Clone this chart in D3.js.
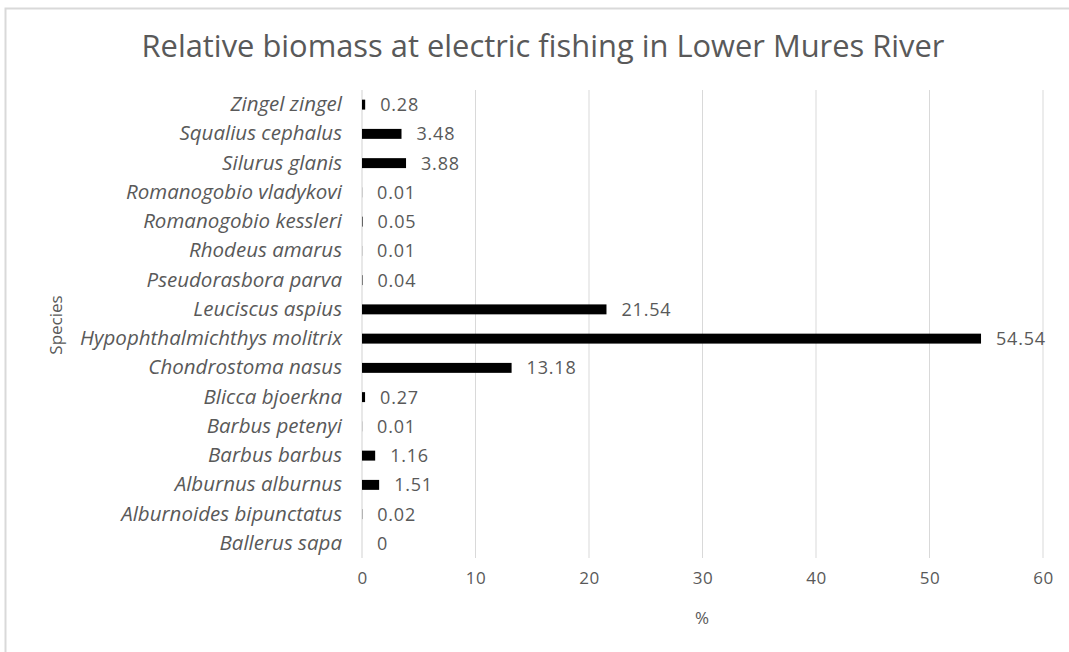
<!DOCTYPE html>
<html><head><meta charset="utf-8">
<script src="https://cdn.jsdelivr.net/npm/d3@7"></script>
<style>body{margin:0;background:#fff;} svg{display:block;}</style>
</head><body>
<script>
const title = "Relative biomass at electric fishing in Lower Mures River";
const species = ["Zingel zingel","Squalius cephalus","Silurus glanis","Romanogobio vladykovi","Romanogobio kessleri","Rhodeus amarus","Pseudorasbora parva","Leuciscus aspius","Hypophthalmichthys molitrix","Chondrostoma nasus","Blicca bjoerkna","Barbus petenyi","Barbus barbus","Alburnus alburnus","Alburnoides bipunctatus","Ballerus sapa"];
const biomass = [0.28,3.48,3.88,0.01,0.05,0.01,0.04,21.54,54.54,13.18,0.27,0.01,1.16,1.51,0.02,0];
const xTicks = [0,10,20,30,40,50,60];
const xLabel = "%";
const yLabel = "Species";

const W = 1069, H = 652;
const m = {left:362, right:W-1043, top:90, bottom:H-558};
const svg = d3.select("body").append("svg").attr("width",W).attr("height",H);
svg.append("rect").attr("x",5.5).attr("y",8.5).attr("width",W+10).attr("height",H+10)
  .attr("fill","#fff").attr("stroke","#d9d9d9").attr("stroke-width",2);

const font = "'Open Sans', sans-serif";
const grey = "#595959";
const x = d3.scaleLinear().domain([0,60]).range([m.left, W-m.right]);
const y = d3.scaleBand().domain(species).range([m.top, H-m.bottom]).paddingInner(0.66).paddingOuter(0.33);

// gridlines
svg.append("g").selectAll("line").data(xTicks.slice(1)).join("line")
  .attr("x1",d=>x(d)).attr("x2",d=>x(d)).attr("y1",m.top).attr("y2",H-m.bottom)
  .attr("stroke","#d9d9d9").attr("stroke-width",1);
// zero axis line
svg.append("line").attr("x1",x(0)).attr("x2",x(0)).attr("y1",m.top).attr("y2",H-m.bottom)
  .attr("stroke","#d9d9d9").attr("stroke-width",1.2);

// x axis
const xa = svg.append("g").attr("transform",`translate(0,${H-m.bottom})`)
  .call(d3.axisBottom(x).tickValues(xTicks).tickSize(0).tickPadding(14));
xa.select(".domain").remove();
xa.selectAll("text").attr("fill",grey).style("font-family",font).style("font-size","17px").style("letter-spacing","0.5px");

// y axis
const ya = svg.append("g").attr("transform",`translate(${m.left-20},0)`)
  .call(d3.axisLeft(y).tickSize(0).tickPadding(0));
ya.select(".domain").remove();
ya.selectAll("text").attr("fill",grey).style("font-family",font).style("font-style","italic").style("font-size","16px");
// fit longest label to ~262px
{
  let mx = 0; ya.selectAll("text").each(function(){mx=Math.max(mx,this.getComputedTextLength());});
  const fs = 16*262/mx;
  ya.selectAll("text").style("font-size",fs+"px");
}

// bars
svg.append("g").selectAll("rect").data(species).join("rect")
  .attr("x",x(0)).attr("y",(d,i)=>y(d)).attr("height",y.bandwidth())
  .attr("width",(d,i)=>x(biomass[i])-x(0)).attr("fill","#000");

// value labels
svg.append("g").selectAll("text").data(species).join("text")
  .attr("x",(d,i)=>x(biomass[i])+15).attr("y",d=>y(d)+y.bandwidth()/2).attr("dy","0.36em")
  .attr("fill",grey).style("font-family",font).style("font-size","18px").style("letter-spacing","0.8px")
  .text((d,i)=>String(biomass[i]));

// title
const t = svg.append("text").attr("x",543).attr("y",57).attr("text-anchor","middle")
  .attr("fill",grey).style("font-family",font).style("font-size","24px").text(title);
{ const w = t.node().getComputedTextLength(); t.style("font-size",(24*803/w)+"px"); }

svg.append("text").attr("x",702).attr("y",624).attr("text-anchor","middle")
  .attr("fill",grey).style("font-family",font).style("font-size","17px").text(xLabel);
svg.append("text").attr("transform","translate(62,325) rotate(-90)").attr("text-anchor","middle")
  .attr("fill",grey).style("font-family",font).style("font-size","17px").text(yLabel);
</script>
</body></html>
